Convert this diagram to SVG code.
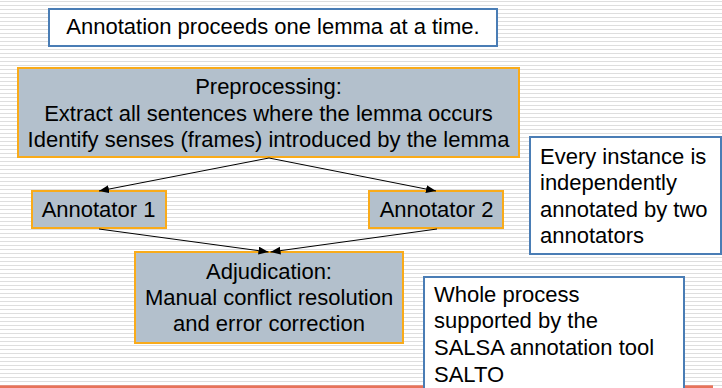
<svg xmlns="http://www.w3.org/2000/svg" width="722" height="388" viewBox="0 0 722 388">
  <defs>
    <pattern id="ruled" patternUnits="userSpaceOnUse" x="0" y="0" width="722" height="4">
      <rect x="0" y="0" width="722" height="4" fill="#ffffff"/>
      <rect x="0" y="1" width="722" height="1" fill="#dedede"/>
    </pattern>
    <marker id="arrow" markerUnits="userSpaceOnUse" markerWidth="11" markerHeight="9" refX="10" refY="4" orient="auto">
      <path d="M0,0 L10,4 L0,8 z" fill="#000"/>
    </marker>
    <style>
      .txt { font-family: "Liberation Sans", Arial, sans-serif; font-size: 22px; fill: #000; }
      .mid { text-anchor: middle; }
      .step { fill: #b3c0cc; stroke: #f9ab1a; stroke-width: 2; }
      .note { fill: #ffffff; stroke: #4a7db5; stroke-width: 2; }
      .edge { stroke: #000; stroke-width: 1; fill: none; marker-end: url(#arrow); }
    </style>
  </defs>

  <!-- ruled background and footer rule -->
  <rect x="0" y="0" width="722" height="388" fill="url(#ruled)"/>
  <rect x="0" y="385.3" width="713" height="3" fill="#e8735a"/>

  <g id="title">
    <rect class="note" x="49" y="9" width="448" height="37"/>
    <text class="txt mid" x="273" y="34">Annotation proceeds one lemma at a time.</text>
  </g>

  <g id="preprocessing">
    <rect class="step" x="18" y="68" width="501" height="89"/>
    <text class="txt mid" x="268.5" y="94">Preprocessing:</text>
    <text class="txt mid" x="268.5" y="120.5">Extract all sentences where the lemma occurs</text>
    <text class="txt mid" x="268.5" y="147">Identify senses (frames) introduced by the lemma</text>
  </g>

  <g id="annotator1">
    <rect class="step" x="32" y="191" width="134" height="37"/>
    <text class="txt mid" x="98.5" y="216.5">Annotator 1</text>
  </g>

  <g id="annotator2">
    <rect class="step" x="369" y="191" width="134" height="37"/>
    <text class="txt mid" x="436.5" y="216.5">Annotator 2</text>
  </g>

  <g id="adjudication">
    <rect class="step" x="135" y="252" width="268" height="91"/>
    <text class="txt mid" x="269" y="279">Adjudication:</text>
    <text class="txt mid" x="269" y="305">Manual conflict resolution</text>
    <text class="txt mid" x="269" y="331">and error correction</text>
  </g>

  <g id="note-independent">
    <rect class="note" x="530" y="137" width="191" height="117"/>
    <text class="txt" x="540" y="164">Every instance is</text>
    <text class="txt" x="540" y="190">independently</text>
    <text class="txt" x="540" y="217">annotated by two</text>
    <text class="txt" x="540" y="243">annotators</text>
  </g>

  <g id="note-salto">
    <rect class="note" x="424" y="277" width="260" height="120"/>
    <text class="txt" x="434" y="302">Whole process</text>
    <text class="txt" x="434" y="328">supported by the</text>
    <text class="txt" x="434" y="355">SALSA annotation tool</text>
    <text class="txt" x="434" y="382">SALTO</text>
  </g>

  <g id="connectors">
    <line class="edge" x1="269" y1="158" x2="99" y2="191"/>
    <line class="edge" x1="269" y1="158" x2="436" y2="191"/>
    <line class="edge" x1="99" y1="229" x2="268.5" y2="252"/>
    <line class="edge" x1="437" y1="229" x2="270.5" y2="252"/>
  </g>
</svg>
